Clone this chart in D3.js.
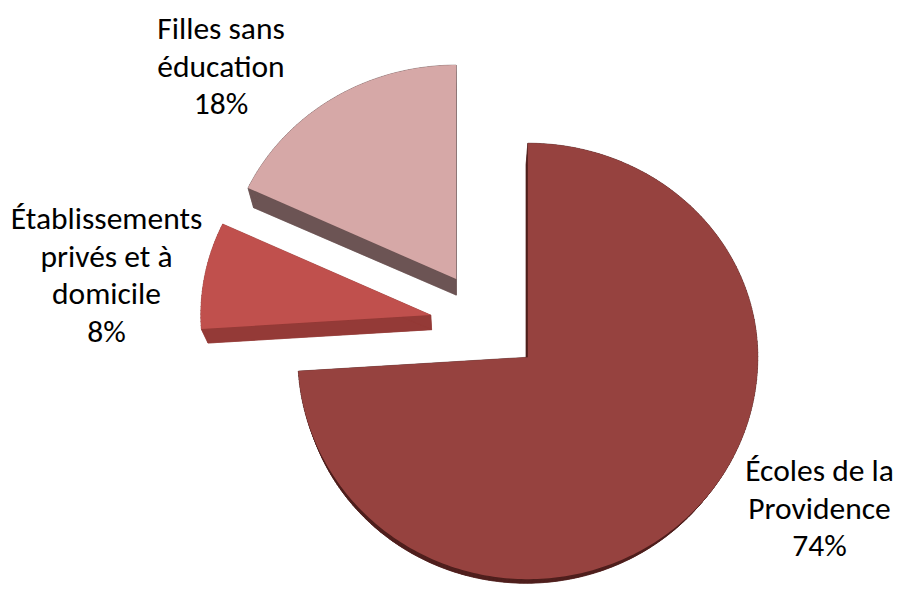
<!DOCTYPE html>
<html>
<head>
<meta charset="utf-8">
<script src="https://cdn.jsdelivr.net/npm/d3@7"></script>
<style>
  html, body { margin: 0; padding: 0; background: #ffffff; }
  svg { display: block; }
</style>
</head>
<body>
<svg id="chart" width="899" height="590"></svg>
<script>
// ---- Data ----
const categories = ["Écoles de la Providence", "Établissements privés et à domicile", "Filles sans éducation"];
const values = [74, 8, 18];
const labelLines = [
  ["Écoles de la", "Providence", "74%"],
  ["Établissements", "privés et à", "domicile", "8%"],
  ["Filles sans", "éducation", "18%"]
];
const topColors = ["#96423f", "#c0504d", "#d6a8a7"];
const sideColors = ["#4f1f1d", "#943a37", "#6c5454"];

// ---- Layout ----
const svg = d3.select("#chart");
const C = { x: 486.5, y: 321.5 };
const rx = 230, ryTop = 214, ryBot = 222;
const explode = 54;
const V = { x: 462, y: 680 }, kx = 0.026, ky = 0.04;

const pie = d3.pie().sort(null).value(d => d).startAngle(0).endAngle(2 * Math.PI);
const arcs = pie(values);

function proj(cx, cy, a, r) {
  const c = Math.cos(a);
  return [cx + r * rx * Math.sin(a), cy - r * c * (c > 0 ? ryTop : ryBot)];
}
const line = d3.line().curve(d3.curveLinearClosed);

const g = svg.append("g");
arcs.forEach((d, i) => {
  const mid = (d.startAngle + d.endAngle) / 2;
  const off = proj(0, 0, mid, explode / rx);
  const cx = C.x + off[0] * 1.05, cy = C.y + off[1] + (off[1] < 0 && Math.abs(off[0]) > 2 * Math.abs(off[1]) ? 3 : 0);
  const n = Math.max(8, Math.ceil((d.endAngle - d.startAngle) * 180 / Math.PI));
  const pts = [[cx, cy]].concat(d3.range(n + 1).map(k => {
    const a = d.startAngle + (d.endAngle - d.startAngle) * k / n;
    return proj(cx, cy, a, 1);
  }));
  const bot = pts.map(p => [p[0] + kx * (V.x - p[0]), p[1] + ky * (V.y - p[1])]);
  const sg = g.append("g");
  sg.append("path").attr("d", line(bot)).attr("fill", sideColors[i]).attr("stroke", sideColors[i]).attr("stroke-width", 0.5);
  pts.forEach((p, k) => {
    const q = pts[(k + 1) % pts.length];
    sg.append("path")
      .attr("d", line([p, q, bot[(k + 1) % pts.length], bot[k]]))
      .attr("fill", sideColors[i]).attr("stroke", sideColors[i]).attr("stroke-width", 0.5);
  });
  g.append("path").attr("d", line(pts)).attr("fill", topColors[i]);
});

// ---- Labels ----
const labelPos = [
  { x: 819.5, y: 481 },
  { x: 106.5, y: 229 },
  { x: 221, y: 39 }
];
const lh = 37.7;
labelLines.forEach((lines, i) => {
  const t = svg.append("text")
    .attr("text-anchor", "middle")
    .attr("font-family", "Carlito, Calibri, Lato, 'Open Sans', sans-serif")
    .attr("font-size", 31.5)
    .attr("fill", "#000");
  lines.forEach((s, k) => {
    t.append("tspan").attr("x", labelPos[i].x).attr("y", labelPos[i].y + k * lh).text(s);
  });
});
</script>
</body>
</html>
